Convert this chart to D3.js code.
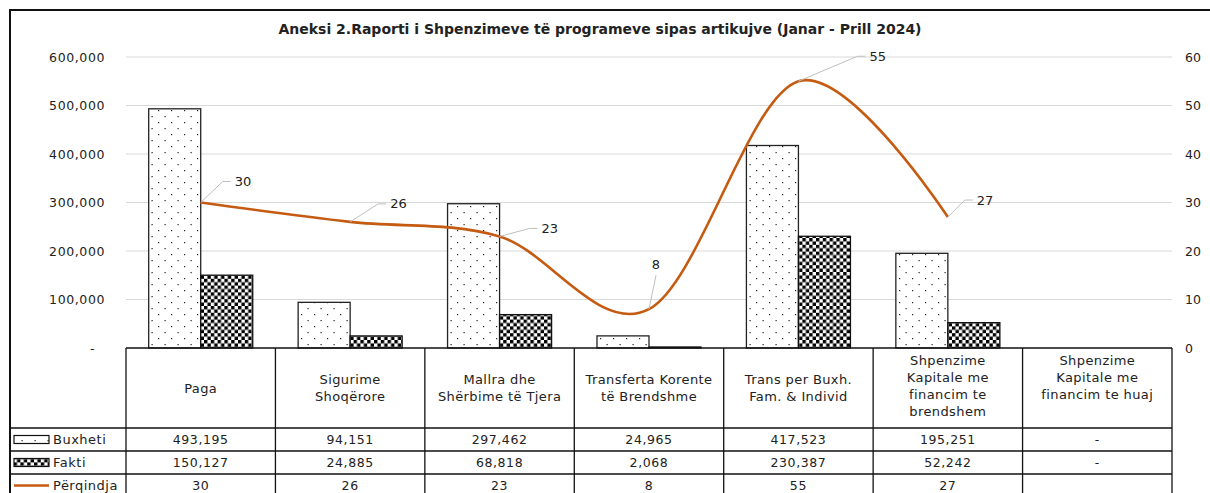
<!DOCTYPE html>
<html>
<head>
<meta charset="utf-8">
<script src="https://cdn.jsdelivr.net/npm/d3@7"></script>
<style>
  body { margin: 0; background: #fff; }
  text { font-family: "DejaVu Sans", Verdana, sans-serif; fill: #222; }
</style>
</head>
<body>
<svg id="chart"></svg>
<script>
// Data
const categories = [
  ["Paga"],
  ["Sigurime", "Shoqërore"],
  ["Mallra dhe", "Shërbime të Tjera"],
  ["Transferta Korente", "të Brendshme"],
  ["Trans per Buxh.", "Fam. & Individ"],
  ["Shpenzime", "Kapitale me", "financim te", "brendshem"],
  ["Shpenzime", "Kapitale me", "financim te huaj"]
]
const buxheti = [493195, 94151, 297462, 24965, 417523, 195251, null]
const fakti = [150127, 24885, 68818, 2068, 230387, 52242, null]
const perqindja = [30, 26, 23, 8, 55, 27, null]
const leftTicks = [0, 100000, 200000, 300000, 400000, 500000, 600000]
const rightTicks = [0, 10, 20, 30, 40, 50, 60]
const title = "Aneksi 2.Raporti i Shpenzimeve të programeve sipas artikujve (Janar - Prill 2024)"

// label offsets for the line's data labels (leader line elbow, relative to point)
const labelOffsets = [[22, -21], [28, -18], [30, -8], [7, -34], [59, -25], [17, -17]]

// Dimensions
const W = 1210, H = 493
const plot = { left: 126, right: 1172, top: 57, bottom: 348 }
const rows = { header: 428, r1: 451, r2: 474, r3: 497 }
const orange = "#c55a11"

const svg = d3.select("#chart").attr("width", W).attr("height", H)

// Patterns
const defs = svg.append("defs")
const dots = defs.append("pattern")
  .attr("id", "dots").attr("patternUnits", "userSpaceOnUse")
  .attr("width", 13).attr("height", 12)
dots.append("rect").attr("width", 13).attr("height", 12).attr("fill", "#fff")
dots.append("rect").attr("x", 2).attr("y", 2).attr("width", 1.2).attr("height", 1.2).attr("fill", "#222")
dots.append("rect").attr("x", 8.5).attr("y", 8).attr("width", 1.2).attr("height", 1.2).attr("fill", "#222")

const checker = defs.append("pattern")
  .attr("id", "checker").attr("patternUnits", "userSpaceOnUse")
  .attr("width", 6.8).attr("height", 6.8)
checker.append("rect").attr("width", 6.8).attr("height", 6.8).attr("fill", "#fff")
checker.append("rect").attr("width", 3.4).attr("height", 3.4).attr("fill", "#000")
checker.append("rect").attr("x", 3.4).attr("y", 3.4).attr("width", 3.4).attr("height", 3.4).attr("fill", "#000")

// Scales
const x = d3.scaleBand().domain(d3.range(categories.length)).range([plot.left, plot.right])
const xs = d3.scaleBand().domain(["b", "f"]).range([0, x.bandwidth()]).paddingOuter(0.4365)
const yL = d3.scaleLinear().domain([0, 600000]).range([plot.bottom, plot.top])
const yR = d3.scaleLinear().domain([0, 60]).range([plot.bottom, plot.top])

// Outer border
svg.append("rect")
  .attr("x", 10).attr("y", 10).attr("width", 1210).attr("height", 500)
  .attr("fill", "none").attr("stroke", "#111").attr("stroke-width", 2)

// Title
svg.append("text")
  .attr("x", 600).attr("y", 34)
  .attr("text-anchor", "middle")
  .attr("font-size", 14).attr("font-weight", "bold")
  .text(title)

// Gridlines
svg.append("g")
  .selectAll("line")
  .data(leftTicks.slice(1))
  .join("line")
  .attr("x1", plot.left).attr("x2", plot.right)
  .attr("y1", d => yL(d)).attr("y2", d => yL(d))
  .attr("stroke", "#d9d9d9").attr("stroke-width", 1)

// Left axis
const axisL = svg.append("g")
  .attr("transform", `translate(${plot.left - 18}, 0)`)
  .call(d3.axisLeft(yL).tickValues(leftTicks).tickSize(0)
    .tickFormat(d => d === 0 ? "-" : d3.format(",")(d)))
axisL.select(".domain").remove()
axisL.selectAll("text")
  .attr("font-family", "DejaVu Sans").attr("font-size", 12.5)
  .attr("letter-spacing", 0.6).attr("fill", "#222")
  .attr("dx", d => d === 0 ? -10 : 0)

// Right axis
const axisR = svg.append("g")
  .attr("transform", `translate(${plot.right + 10}, 0)`)
  .call(d3.axisRight(yR).tickValues(rightTicks).tickSize(0))
axisR.select(".domain").remove()
axisR.selectAll("text")
  .attr("font-family", "DejaVu Sans").attr("font-size", 12.5)
  .attr("fill", "#222")

// Bars
const barG = svg.append("g")
barG.selectAll(".bux")
  .data(buxheti.map((v, i) => ({ v, i })).filter(d => d.v != null))
  .join("rect")
  .attr("x", d => x(d.i) + xs("b"))
  .attr("width", xs.bandwidth())
  .attr("y", d => yL(d.v))
  .attr("height", d => yL(0) - yL(d.v))
  .attr("fill", "url(#dots)").attr("stroke", "#222").attr("stroke-width", 1.3)
barG.selectAll(".fak")
  .data(fakti.map((v, i) => ({ v, i })).filter(d => d.v != null))
  .join("rect")
  .attr("x", d => x(d.i) + xs("f"))
  .attr("width", xs.bandwidth())
  .attr("y", d => yL(d.v))
  .attr("height", d => yL(0) - yL(d.v))
  .attr("fill", "url(#checker)").attr("stroke", "#111").attr("stroke-width", 1.3)

// Line
const pts = perqindja.map((v, i) => ({ v, i })).filter(d => d.v != null)
const line = d3.line()
  .x(d => x(d.i) + x.bandwidth() / 2)
  .y(d => yR(d.v))
  .curve(d3.curveCardinal.tension(0))
svg.append("path")
  .datum(pts)
  .attr("d", line)
  .attr("fill", "none").attr("stroke", orange).attr("stroke-width", 2.6)

// Data labels with leader lines
const lab = svg.append("g")
pts.forEach((d, k) => {
  const px = x(d.i) + x.bandwidth() / 2, py = yR(d.v)
  const [ox, oy] = labelOffsets[k]
  const ex = px + ox, ey = py + oy
  const vertical = Math.abs(ox) < 10
  if (vertical) {
    lab.append("path")
      .attr("d", `M${px},${py}L${ex},${ey}`)
      .attr("stroke", "#bfbfbf").attr("fill", "none")
    lab.append("text")
      .attr("x", ex).attr("y", ey - 6)
      .attr("text-anchor", "middle")
      .attr("font-size", 13).attr("fill", "#404040")
      .text(d.v)
  } else {
    lab.append("path")
      .attr("d", `M${px},${py}L${ex},${ey}L${ex + 8},${ey}`)
      .attr("stroke", "#bfbfbf").attr("fill", "none")
    lab.append("text")
      .attr("x", ex + 12).attr("y", ey)
      .attr("dy", "0.35em")
      .attr("font-size", 13).attr("fill", "#404040")
      .text(d.v)
  }
})

// Data table
const tbl = svg.append("g").attr("stroke", "#111").attr("stroke-width", 1.3)
tbl.append("line").attr("x1", plot.left).attr("x2", plot.right).attr("y1", plot.bottom).attr("y2", plot.bottom)
;[rows.header, rows.r1, rows.r2].forEach(y =>
  tbl.append("line").attr("x1", 10).attr("x2", plot.right).attr("y1", y).attr("y2", y))
d3.range(categories.length + 1).forEach(i => {
  const xx = i < categories.length ? x(i) : plot.right
  tbl.append("line").attr("x1", xx).attr("x2", xx).attr("y1", plot.bottom).attr("y2", H)
})

// header labels: short ones centred, long ones start near the top of the cell
const lh = 17
categories.forEach((lines, i) => {
  const cx = x(i) + x.bandwidth() / 2
  const cy = (plot.bottom + rows.header) / 2
  const y0 = lines.length >= 3 ? plot.bottom + 12 : cy - (lines.length - 1) / 2 * lh
  const t = svg.append("text")
    .attr("text-anchor", "middle")
    .attr("font-size", 13).attr("letter-spacing", 0.4)
  lines.forEach((s, j) => {
    t.append("tspan")
      .attr("x", cx)
      .attr("y", y0 + j * lh)
      .attr("dy", "0.35em")
      .text(s)
  })
})

// value rows
const fmt = v => v == null ? "-" : d3.format(",")(v)
const series = [
  { name: "Buxheti", vals: buxheti, y: (rows.header + rows.r1) / 2, f: fmt },
  { name: "Fakti", vals: fakti, y: (rows.r1 + rows.r2) / 2, f: fmt },
  { name: "Përqindja", vals: perqindja, y: (rows.r2 + rows.r3) / 2, f: v => v == null ? "" : v }
]
series.forEach((s, si) => {
  s.vals.forEach((v, i) => {
    svg.append("text")
      .attr("x", x(i) + x.bandwidth() / 2).attr("y", s.y)
      .attr("dy", "0.35em").attr("text-anchor", "middle")
      .attr("font-size", 12.5).attr("letter-spacing", 0.6)
      .text(s.f(v))
  })
  // legend key
  if (si === 0) {
    svg.append("rect").attr("x", 14).attr("y", s.y - 4).attr("width", 35).attr("height", 8)
      .attr("fill", "url(#dots)").attr("stroke", "#111").attr("stroke-width", 1.2)
  } else if (si === 1) {
    svg.append("rect").attr("x", 14).attr("y", s.y - 4).attr("width", 35).attr("height", 8)
      .attr("fill", "url(#checker)").attr("stroke", "#111").attr("stroke-width", 1.2)
  } else {
    svg.append("line").attr("x1", 14).attr("x2", 49).attr("y1", s.y).attr("y2", s.y)
      .attr("stroke", orange).attr("stroke-width", 2.6)
  }
  svg.append("text")
    .attr("x", 53).attr("y", s.y).attr("dy", "0.35em")
    .attr("font-size", 13).attr("letter-spacing", 0.5)
    .text(s.name)
})
</script>
</body>
</html>
